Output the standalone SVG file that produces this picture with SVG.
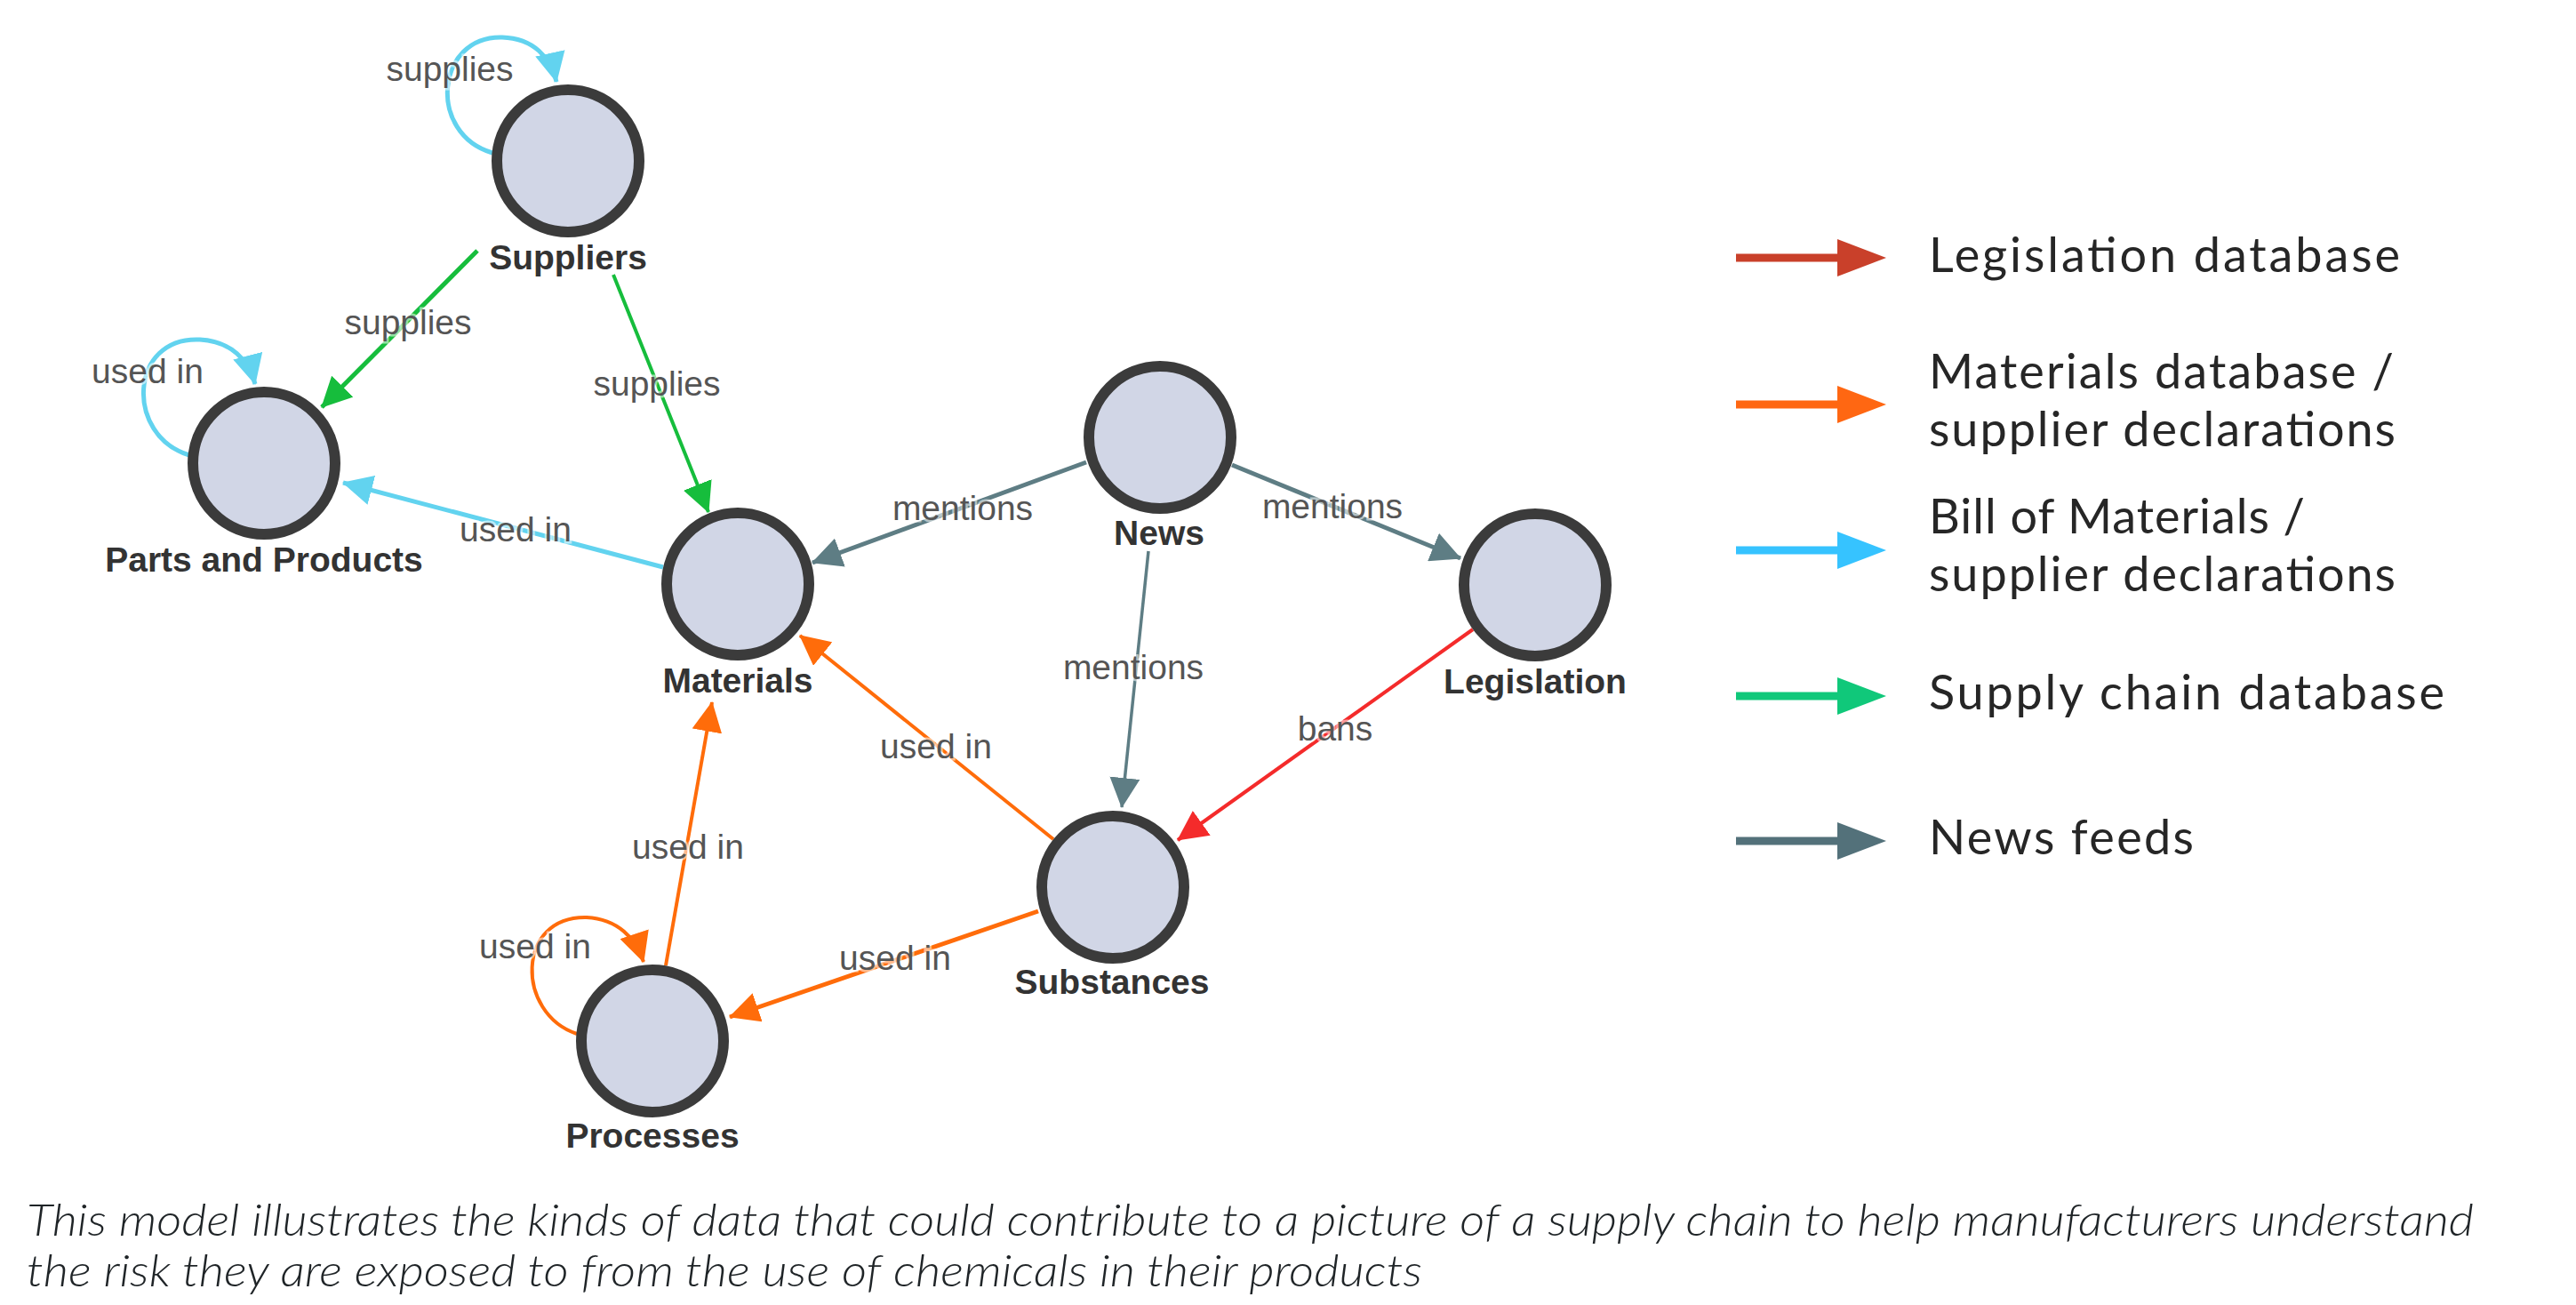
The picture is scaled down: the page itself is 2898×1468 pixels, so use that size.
<svg xmlns="http://www.w3.org/2000/svg" width="2898" height="1468" viewBox="0 0 2898 1468">
<style>
.node circle{fill:#d1d6e6;stroke:#3b3b3b;stroke-width:12}
.nlabel{font-family:"Liberation Sans",Arial,sans-serif;font-weight:bold;font-size:39px;fill:#333;text-anchor:middle}
.elabel{font-family:"Liberation Sans",Arial,sans-serif;font-size:39px;fill:#555;text-anchor:middle;stroke:#fff;stroke-width:5;stroke-opacity:0.55;paint-order:stroke}
.e{fill:none;stroke-width:5}
.cyan{stroke:#62d3ef}
.green{stroke:#16bd3c}
.slate{stroke:#5e7d84}
.orange{stroke:#ff6c0a}
.red{stroke:#f42b2b}
.legtxt{font-family:Lato,"Noto Sans",sans-serif;font-size:54px;fill:#262626}
.caption{font-family:Lato,"Noto Sans",sans-serif;font-style:italic;font-weight:300;font-size:49px;fill:#1f2427}
</style>
<defs>
<marker id="mCyan" markerUnits="userSpaceOnUse" markerWidth="34" markerHeight="34" viewBox="0 0 32 32" refX="31" refY="16" orient="auto"><path d="M0,0 L32,16 L0,32 z" fill="#62d3ef"/></marker>
<marker id="mGreen" markerUnits="userSpaceOnUse" markerWidth="34" markerHeight="34" viewBox="0 0 32 32" refX="31" refY="16" orient="auto"><path d="M0,0 L32,16 L0,32 z" fill="#16bd3c"/></marker>
<marker id="mSlate" markerUnits="userSpaceOnUse" markerWidth="34" markerHeight="34" viewBox="0 0 32 32" refX="31" refY="16" orient="auto"><path d="M0,0 L32,16 L0,32 z" fill="#5e7d84"/></marker>
<marker id="mOrange" markerUnits="userSpaceOnUse" markerWidth="34" markerHeight="34" viewBox="0 0 32 32" refX="31" refY="16" orient="auto"><path d="M0,0 L32,16 L0,32 z" fill="#ff6c0a"/></marker>
<marker id="mRed" markerUnits="userSpaceOnUse" markerWidth="34" markerHeight="34" viewBox="0 0 32 32" refX="31" refY="16" orient="auto"><path d="M0,0 L32,16 L0,32 z" fill="#f42b2b"/></marker>
</defs>
<rect width="2898" height="1468" fill="#fff"/>

<g id="connectors">
<path class="e cyan" d="M554,172 C480,150 490,40 565,42 C600,43 620,65 626,92" marker-end="url(#mCyan)"/>
<path class="e cyan" d="M213,512 C140,490 145,378 225,382 C260,384 280,405 287,432" marker-end="url(#mCyan)"/>
<path class="e green" d="M537,282 L362,458" marker-end="url(#mGreen)"/>
<path class="e green" d="M690,309 L797,576" marker-end="url(#mGreen)" style="stroke-width:4"/>
<path class="e cyan" d="M746,638 L386,543" marker-end="url(#mCyan)"/>
<path class="e slate" d="M1222,520 L914,633" marker-end="url(#mSlate)"/>
<path class="e slate" d="M1386,523 L1643,628" marker-end="url(#mSlate)"/>
<path class="e slate" d="M1292,620 L1262,908" marker-end="url(#mSlate)" style="stroke-width:3.5"/>
<path class="e red" d="M1657,708 L1325,945" marker-end="url(#mRed)" style="stroke-width:4"/>
<path class="e orange" d="M1185,944 L900,715" marker-end="url(#mOrange)" style="stroke-width:4"/>
<path class="e orange" d="M749,1086 L801,790" marker-end="url(#mOrange)" style="stroke-width:4"/>
<path class="e orange" d="M1168,1025 L821,1144" marker-end="url(#mOrange)"/>
<path class="e orange" d="M649,1163 C580,1140 580,1030 660,1032 C695,1034 715,1055 724,1082" marker-end="url(#mOrange)" style="stroke-width:4"/>
</g>

<g id="edge-labels">
<text class="elabel" x="506" y="91">supplies</text>
<text class="elabel" x="459" y="376">supplies</text>
<text class="elabel" x="166" y="431">used in</text>
<text class="elabel" x="739" y="445">supplies</text>
<text class="elabel" x="580" y="609">used in</text>
<text class="elabel" x="1083" y="585">mentions</text>
<text class="elabel" x="1499" y="583">mentions</text>
<text class="elabel" x="1275" y="764">mentions</text>
<text class="elabel" x="1502" y="833">bans</text>
<text class="elabel" x="1053" y="853">used in</text>
<text class="elabel" x="774" y="966">used in</text>
<text class="elabel" x="602" y="1078">used in</text>
<text class="elabel" x="1007" y="1091">used in</text>
</g>

<g id="node-suppliers" class="node"><circle cx="639" cy="181" r="80"/><text class="nlabel" x="639" y="303">Suppliers</text></g>
<g id="node-parts" class="node"><circle cx="297" cy="521" r="80"/><text class="nlabel" x="297" y="643">Parts and Products</text></g>
<g id="node-materials" class="node"><circle cx="830" cy="657" r="80"/><text class="nlabel" x="830" y="779">Materials</text></g>
<g id="node-news" class="node"><circle cx="1305" cy="492" r="80"/><text class="nlabel" x="1304" y="613">News</text></g>
<g id="node-legislation" class="node"><circle cx="1727" cy="658" r="80"/><text class="nlabel" x="1727" y="780">Legislation</text></g>
<g id="node-substances" class="node"><circle cx="1252" cy="998" r="80"/><text class="nlabel" x="1251" y="1118">Substances</text></g>
<g id="node-processes" class="node"><circle cx="734" cy="1171" r="80"/><text class="nlabel" x="734" y="1291">Processes</text></g>

<g id="legend">
<line x1="1953" y1="290" x2="2072" y2="290" stroke="#c9402a" stroke-width="9"/>
<polygon points="2067,269 2122,290 2067,311" fill="#c9402a"/>
<text class="legtxt" x="2170" y="306" textLength="530" lengthAdjust="spacing">Legislation database</text>

<line x1="1953" y1="455" x2="2072" y2="455" stroke="#ff6712" stroke-width="9"/>
<polygon points="2067,434 2122,455 2067,476" fill="#ff6712"/>
<text class="legtxt" x="2170" y="437" textLength="523" lengthAdjust="spacing">Materials database /</text>
<text class="legtxt" x="2170" y="502" textLength="525" lengthAdjust="spacing">supplier declarations</text>

<line x1="1953" y1="619" x2="2072" y2="619" stroke="#36c3ff" stroke-width="9"/>
<polygon points="2067,598 2122,619 2067,640" fill="#36c3ff"/>
<text class="legtxt" x="2170" y="600" textLength="423" lengthAdjust="spacing">Bill of Materials /</text>
<text class="legtxt" x="2170" y="665" textLength="525" lengthAdjust="spacing">supplier declarations</text>

<line x1="1953" y1="783" x2="2072" y2="783" stroke="#10c87a" stroke-width="9"/>
<polygon points="2067,762 2122,783 2067,804" fill="#10c87a"/>
<text class="legtxt" x="2170" y="798" textLength="580" lengthAdjust="spacing">Supply chain database</text>

<line x1="1953" y1="946" x2="2072" y2="946" stroke="#53717a" stroke-width="9"/>
<polygon points="2067,925 2122,946 2067,967" fill="#53717a"/>
<text class="legtxt" x="2170" y="961" textLength="298" lengthAdjust="spacing">News feeds</text>
</g>

<g id="caption">
<text class="caption" x="30" y="1390" textLength="2753" lengthAdjust="spacingAndGlyphs">This model illustrates the kinds of data that could contribute to a picture of a supply chain to help manufacturers understand</text>
<text class="caption" x="30" y="1447" textLength="1570" lengthAdjust="spacingAndGlyphs">the risk they are exposed to from the use of chemicals in their products</text>
</g>
</svg>
